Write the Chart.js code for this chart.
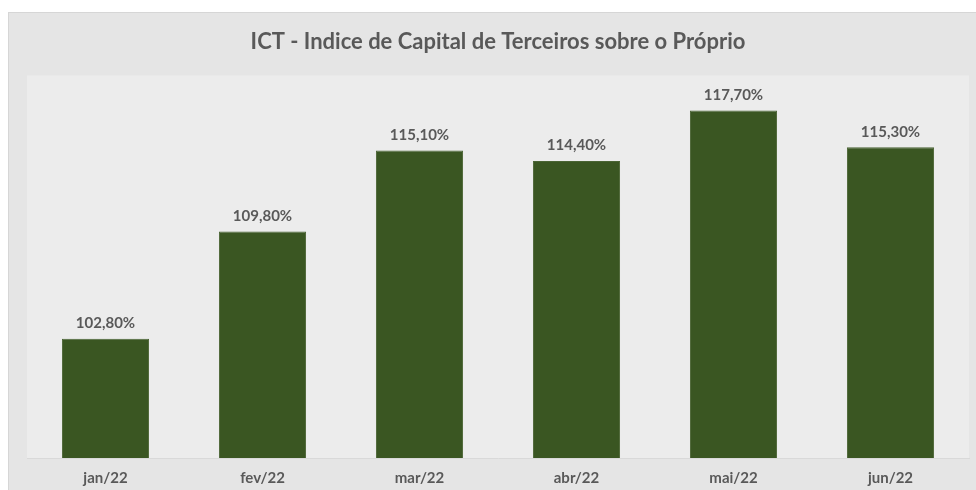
<!DOCTYPE html>
<html>
<head>
<meta charset="utf-8">
<script src="https://cdn.jsdelivr.net/npm/chart.js@4/dist/chart.umd.min.js"></script>
<style>
  html, body { margin: 0; padding: 0; background: #ffffff; }
  #wrap {
    position: absolute; left: 8px; top: 12px; width: 968px; height: 478px;
    background: #e5e5e5; border-top: 1px solid #d6d6d6; border-left: 1px solid #d6d6d6;
    box-sizing: border-box;
  }
</style>
</head>
<body>
<div id="wrap"><canvas id="ictChart"></canvas></div>
<script>
// Dados do gráfico
const meses = ['jan/22', 'fev/22', 'mar/22', 'abr/22', 'mai/22', 'jun/22'];
const ict = [102.8, 109.8, 115.1, 114.4, 117.7, 115.3];

const txt = '#595959';
const fam = 'Lato, "Open Sans", sans-serif';
const fmt = v => v.toFixed(2).replace('.', ',') + '%';

// fundo da área de plotagem
const plotBg = {
  id: 'plotBg',
  beforeDraw(chart) {
    const { ctx, chartArea: a } = chart;
    ctx.save();
    ctx.fillStyle = '#ececec';
    ctx.fillRect(a.left, a.top, a.right - a.left, a.bottom - a.top);
    ctx.restore();
  }
};

// rótulos de dados acima das barras
const barLabels = {
  id: 'barLabels',
  afterDatasetsDraw(chart) {
    const { ctx } = chart;
    const meta = chart.getDatasetMeta(0);
    ctx.save();
    ctx.font = 'bold 15px ' + fam;
    ctx.fillStyle = txt;
    ctx.textAlign = 'center';
    ctx.textBaseline = 'bottom';
    meta.data.forEach((bar, i) => {
      ctx.fillText(fmt(ict[i]), bar.x, bar.y - 8);
    });
    ctx.restore();
  }
};

new Chart(document.getElementById('ictChart'), {
  type: 'bar',
  data: {
    labels: meses,
    datasets: [{
      data: ict,
      backgroundColor: '#3a5622',
      borderColor: '#4a6434',
      borderWidth: 1,
      categoryPercentage: 1,
      barPercentage: 0.555
    }]
  },
  options: {
    responsive: true, maintainAspectRatio: false, animation: false,
    layout: { padding: { left: 18, right: 7, top: 0, bottom: 0 } },
    plugins: {
      legend: { display: false },
      tooltip: { enabled: false },
      title: {
        display: true,
        text: 'ICT - Indice de Capital de Terceiros sobre o Próprio',
        color: txt,
        font: { family: fam, size: 22, weight: 'bold' },
        padding: { top: 16, bottom: 20 }
      }
    },
    scales: {
      x: {
        grid: { display: false, drawTicks: false },
        border: { color: '#d9d9d9' },
        ticks: { color: txt, padding: 11, font: { family: fam, size: 15, weight: 'bold' } },
        afterFit: s => { s.height = 32; }
      },
      y: { display: false, min: 95, max: 120 }
    }
  },
  plugins: [plotBg, barLabels]
});
</script>
</body>
</html>
